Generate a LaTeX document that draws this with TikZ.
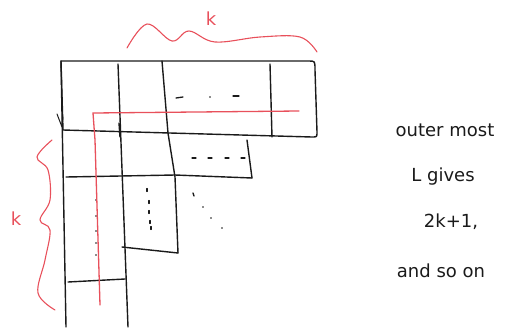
\documentclass[tikz,border=0pt]{standalone}
\usepackage{xcolor}
\usepackage{fontspec}
\setmainfont{DejaVu Sans}
\definecolor{sketchink}{HTML}{1A1A1A}
\definecolor{sketchred}{HTML}{E8505B}

\begin{document}
\begin{tikzpicture}[
  x=1pt,
  y=-1pt,
  every node/.style={font=\fontsize{18}{20}\selectfont, sketchink},
  grid/.style={sketchink, line width=1.4pt, line cap=round, line join=round},
  hook/.style={sketchred, line width=1.3pt, line cap=round},
  brace/.style={sketchred, line width=1.1pt, line cap=round},
  dotrow/.style={sketchink, line width=1.3pt, line cap=round},
  note/.style={anchor=center, inner sep=0pt}
]
  % ---- canvas of the reference ----
  \useasboundingbox (0,0) rectangle (508,327);

  % ---- top row of the L (k blocks) ----
  \draw[grid] (63,130) -- (61,61) -- (309,61)
    .. controls (315,61) .. (315,70) -- (317,132)
    .. controls (317,137) .. (312,137) -- (63,130);
  \draw[grid] (270,64) -- (272,137);
  \draw[grid] (119,123) -- (120,137);

  % ---- left column and inner column lines ----
  \draw[grid] (61,61) -- (66,327);
  \draw[grid] (118,64) -- (128,327);
  \draw[grid] (162,61) -- (168,133) -- (175,177) -- (178,253);

  % ---- second L: short arm to the right ----
  \draw[grid] (247,140) -- (252,178);
  \draw[grid] (66,177) -- (175,175) -- (252,178);

  % ---- lower edges ----
  \draw[grid] (122,247) -- (178,253);
  \draw[grid] (68,282) -- (125,279);

  % ---- little corner mark ----
  \draw[grid, line width=1pt] (57,114) -- (62,127) -- (63,117);

  % ---- dots in the rows ----
  \draw[dotrow] (176,98) -- (183,97);
  \fill[sketchink] (210,97) circle (0.8);
  \draw[dotrow] (233,96) -- (239,96);
  \foreach \x in {194,210,227,243}
    \draw[dotrow] (\x-2,158) -- (\x+2,158);

  % ---- dots down the columns and on the diagonal ----
  \foreach \y in {200,216,231,243,255}
    \fill[sketchink] (96,\y) circle (0.8);
  \foreach \y/\x in {190/147,202/149,212/149,222/150,228/151}
    \draw[dotrow] (\x,\y-1.5) -- (\x,\y+1.5);
  \draw[dotrow] (193,193) -- (194,196);
  \foreach \p in {(203,207),(211,218),(222,228)}
    \fill[sketchink] \p circle (0.9);

  % ---- outermost L in red ----
  \draw[hook] (100,305) -- (95,140) -- (93,113) -- (299,111);

  % ---- braces with k ----
  \draw[brace] plot[smooth, tension=0.6] coordinates
    {(127,48) (147,24) (172,41) (189,31) (215,42) (260,37) (300,37) (317,52)};
  \node[note, sketchred] (ktop) at (211,19) {k};
  \draw[brace] plot[smooth, tension=0.6] coordinates
    {(52,140) (37,157) (48,170) (50,200) (40,220) (50,230) (45,260) (38,293) (55,310)};
  \node[note, sketchred] (kleft) at (16,219) {k};

  % ---- note on the right ----
  \node[note] (outer) at (445,130) {outer most};
  \node[note] (gives) at (443,177) {L gives};
  \node[note] (count) at (451,222) {2k+1,};
  \node[note] (soon)  at (441,271) {and so on};
\end{tikzpicture}
\end{document}
